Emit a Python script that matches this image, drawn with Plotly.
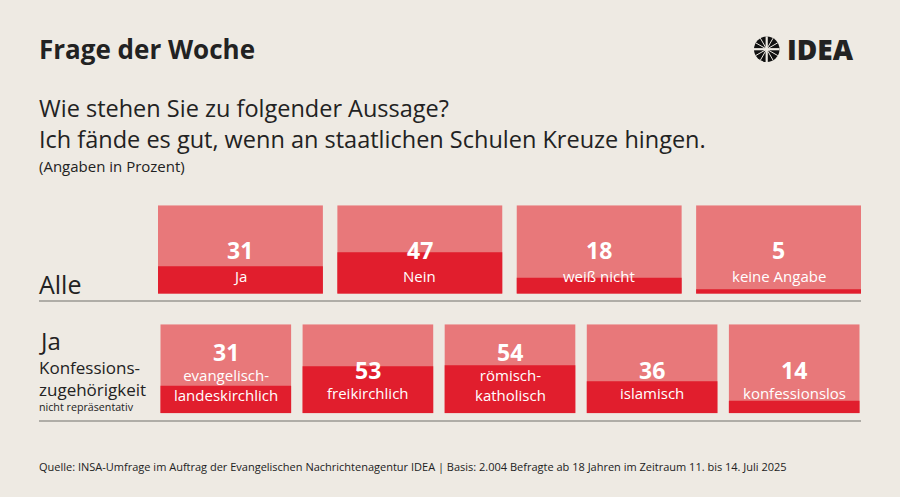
import math
import plotly.graph_objects as go
from plotly.subplots import make_subplots

# Data
alle_labels = ["Ja", "Nein", "weiß nicht", "keine Angabe"]
alle_values = [31, 47, 18, 5]

konf_labels = ["evangelisch-<br>landeskirchlich", "freikirchlich", "römisch-<br>katholisch",
               "islamisch", "konfessionslos"]
konf_values = [31, 53, 54, 36, 14]

BG = "#EEEAE3"
LIGHT = "#E8787A"
DARK = "#E11E2D"
INK = "#222222"
FONT = "Open Sans"

W, H = 900, 497


def px_x(x):
    return x / W


def px_y(y):
    return 1 - y / H


fig = make_subplots(rows=2, cols=1)

# top row: all respondents
fig.add_trace(go.Bar(x=alle_labels, y=[100] * len(alle_labels), marker_color=LIGHT,
                     marker_line_width=0, hoverinfo="skip"), row=1, col=1)
fig.add_trace(go.Bar(x=alle_labels, y=alle_values, marker_color=DARK,
                     marker_line_width=0), row=1, col=1)

# bottom row: by denomination
fig.add_trace(go.Bar(x=konf_labels, y=[100] * len(konf_labels), marker_color=LIGHT,
                     marker_line_width=0, hoverinfo="skip"), row=2, col=1)
fig.add_trace(go.Bar(x=konf_labels, y=konf_values, marker_color=DARK,
                     marker_line_width=0), row=2, col=1)

# box geometry (pixels) -> domains; half a gap added on each side
gap1 = 14.5
gap2 = 10.5
fig.update_layout(
    xaxis=dict(domain=[px_x(158 - gap1 / 2), px_x(861 + gap1 / 2)]),
    yaxis=dict(domain=[px_y(293.7), px_y(205.3)], range=[0, 100]),
    xaxis2=dict(domain=[px_x(160 - gap2 / 2), px_x(860 + gap2 / 2)]),
    yaxis2=dict(domain=[px_y(413.3), px_y(324.3)], range=[0, 100]),
)
fig.update_xaxes(visible=False, fixedrange=True)
fig.update_yaxes(visible=False, fixedrange=True)

ann = []
for lab, v in zip(alle_labels, alle_values):
    ann.append(dict(x=lab, y=49, xref="x", yref="y", text=f"<b>{v}</b>", showarrow=False,
                    font=dict(size=23, color="white", family=FONT)))
    ann.append(dict(x=lab, y=20.5, xref="x", yref="y", text=lab, showarrow=False,
                    font=dict(size=15, color="white", family=FONT)))

for lab, v in zip(konf_labels, konf_values):
    two = "<br>" in lab
    ann.append(dict(x=lab, y=68.5 if two else 48.5, xref="x2", yref="y2", text=f"<b>{v}</b>",
                    showarrow=False, font=dict(size=23, color="white", family=FONT)))
    ann.append(dict(x=lab, y=31.5 if two else 22.5, xref="x2", yref="y2", text=lab, showarrow=False,
                    font=dict(size=15, color="white", family=FONT)))


def txt(x, y, text, size, bold=False, anchor="left", color=INK, weight=None):
    f = dict(size=size, color=color, family=FONT)
    if weight:
        f["weight"] = weight
    return dict(x=px_x(x), y=px_y(y), xref="paper", yref="paper", text=f"<b>{text}</b>" if bold else text,
                showarrow=False, xanchor=anchor, yanchor="middle", align="left", font=f)


ann += [
    txt(37, 49, "Frage der Woche", 26, bold=True),
    txt(785, 49, "IDEA", 28, weight=800),
    txt(37, 124, "Wie stehen Sie zu folgender Aussage?<br>"
                 "Ich fände es gut, wenn an staatlichen Schulen Kreuze hingen.", 23.5),
    txt(37, 165.5, "(Angaben in Prozent)", 15),
    txt(37, 284, "Alle", 25),
    txt(37, 340.5, "Ja", 24),
    txt(37, 378.5, "Konfessions-<br>zugehörigkeit", 17),
    txt(37, 407, "nicht repräsentativ", 10.7),
    txt(37, 466, "Quelle: INSA-Umfrage im Auftrag der Evangelischen Nachrichtenagentur IDEA | "
                 "Basis: 2.004 Befragte ab 18 Jahren im Zeitraum 11. bis 14. Juli 2025", 11),
]

# separators and logo mark
shapes = [
    dict(type="line", xref="paper", yref="paper", x0=px_x(39), x1=px_x(861), y0=px_y(301), y1=px_y(301),
         line=dict(color="#9A9893", width=1.5)),
    dict(type="line", xref="paper", yref="paper", x0=px_x(39), x1=px_x(861), y0=px_y(421), y1=px_y(421),
         line=dict(color="#9A9893", width=1.5)),
    dict(type="circle", xref="paper", yref="paper", x0=px_x(754), x1=px_x(779.5), y0=px_y(62), y1=px_y(36.5),
         fillcolor="#111111", line_width=0),
]
cx, cy, r = 766.7, 49.2, 12.8
for k in range(12):
    a = math.pi * k / 6
    wdt = 2.2 if k % 3 == 0 else 1.0
    shapes.append(dict(type="line", xref="paper", yref="paper",
                       x0=px_x(cx), y0=px_y(cy),
                       x1=px_x(cx + r * math.cos(a)), y1=px_y(cy - r * math.sin(a)),
                       line=dict(color=BG, width=wdt)))

fig.update_layout(
    width=W, height=H,
    margin=dict(l=0, r=0, t=0, b=0),
    paper_bgcolor=BG, plot_bgcolor=BG,
    barmode="overlay", bargap=gap1 / ((703 + gap1) / 4),
    showlegend=False,
    annotations=ann, shapes=shapes,
    font=dict(family=FONT, color=INK),
)

# drop the page's default body margin so the figure sits at the window's corner
fig.write_html("out.html", config={"displayModeBar": False},
               post_script="document.body.style.margin='0';document.body.style.background='" + BG + "';")
